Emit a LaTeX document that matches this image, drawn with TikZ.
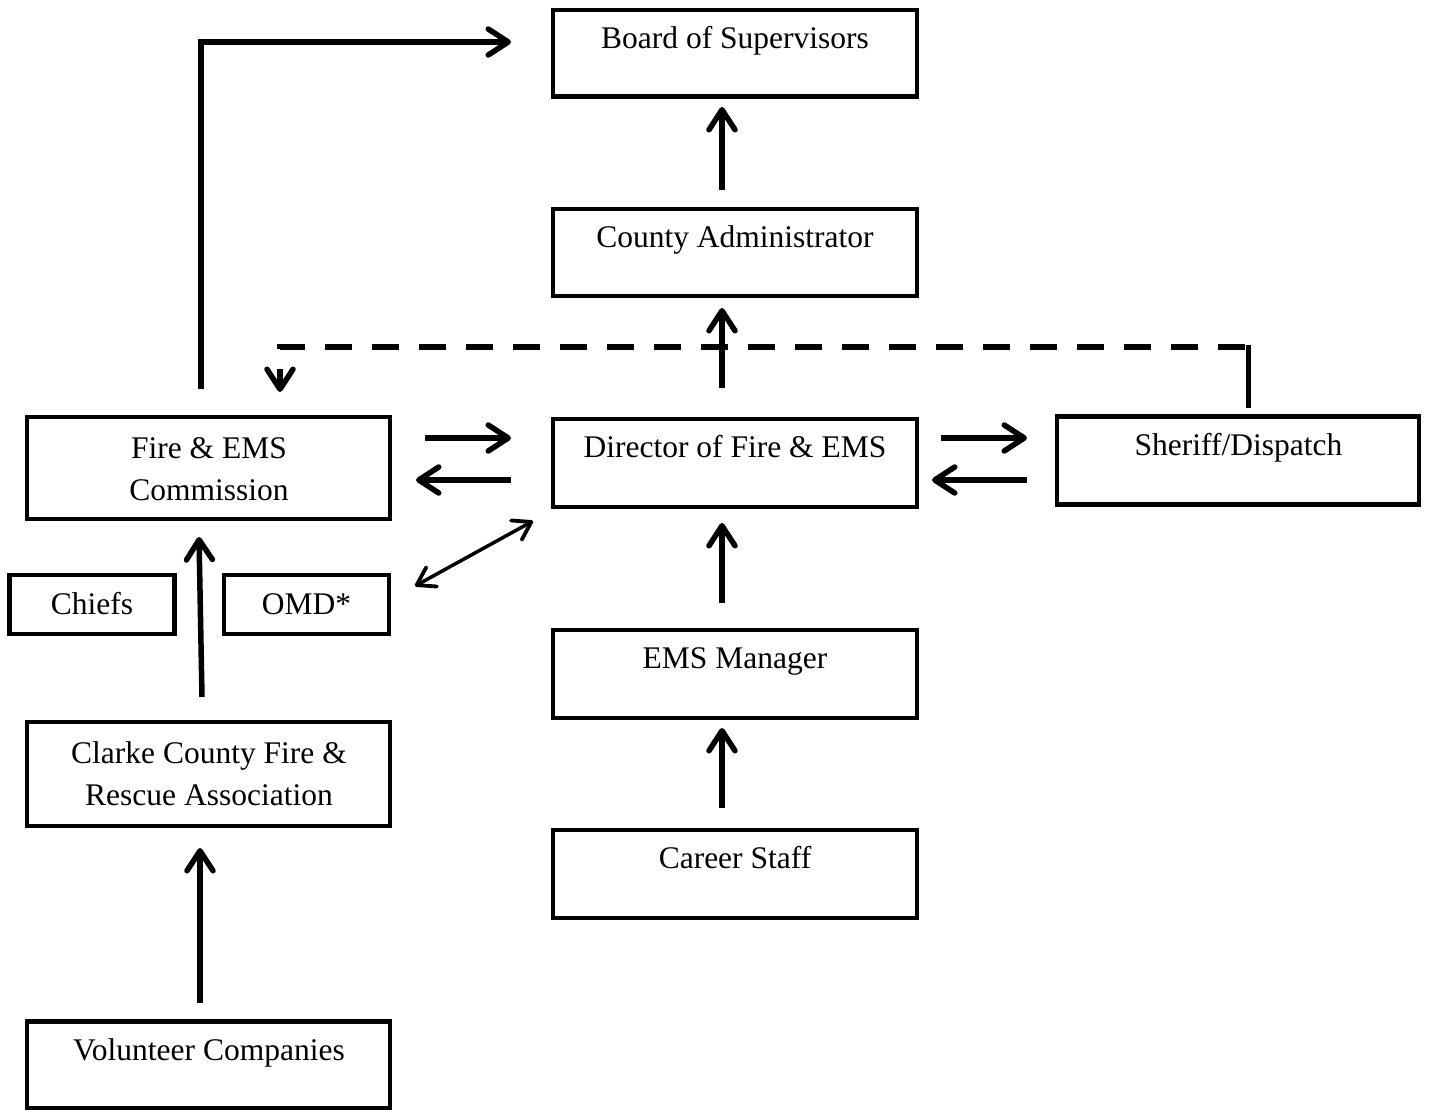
\documentclass[tikz,border=0pt]{standalone}
\usepackage{fontspec}
\setmainfont{Liberation Serif}
\usetikzlibrary{arrows.meta}
\begin{document}
\begin{tikzpicture}[x=1pt,y=-1pt,
  box/.style={draw, line width=4.5pt, inner sep=0pt},
  txt/.style={inner sep=0pt, anchor=base, font=\fontsize{31.5}{40}\selectfont},
  arr/.style={line width=5.5pt, -{Straight Barb[length=20pt,width=26pt,round,line width=5.5pt 0]}},
  dblarr/.style={line width=3.5pt, {Straight Barb[length=17pt,width=22pt,round,line width=3.8pt 0]}-{Straight Barb[length=17pt,width=22pt,round,line width=3.8pt 0]}},
  dasharr/.style={line width=5.5pt, dash pattern=on 27pt off 20pt, dash phase=43.5pt, -{Straight Barb[length=20pt,width=26pt,round,line width=5.5pt 0]}},
]
\useasboundingbox (0,0) rectangle (1430,1112);

% boxes
\node[box, minimum width=364pt, minimum height=86.5pt] (board) at (735,53.25) {};
\node[box, minimum width=364pt, minimum height=87pt] (county) at (735,252.5) {};
\node[box, minimum width=364pt, minimum height=88pt] (director) at (735,463) {};
\node[box, minimum width=362pt, minimum height=88pt] (sheriff) at (1238,460.5) {};
\node[box, minimum width=363pt, minimum height=102pt] (fire) at (208.5,468) {};
\node[box, minimum width=165pt, minimum height=59pt] (chiefs) at (92,604.5) {};
\node[box, minimum width=165pt, minimum height=59pt] (omd) at (306.5,604.5) {};
\node[box, minimum width=364pt, minimum height=88pt] (ems) at (735,674) {};
\node[box, minimum width=363pt, minimum height=104pt] (clarke) at (208.5,774) {};
\node[box, minimum width=364pt, minimum height=88pt] (career) at (735,874) {};
\node[box, minimum width=363pt, minimum height=86.5pt] (volunteer) at (208.5,1064.75) {};

% texts
\node[txt] (boardT) at (735,48) {Board of Supervisors};
\node[txt] (countyT) at (735,247.5) {County Administrator};
\node[txt] (directorT) at (735,457.5) {Director of Fire \& EMS};
\node[txt] (sheriffT) at (1238.5,455) {Sheriff/Dispatch};
\node[txt] (fireT1) at (209,458) {Fire \& EMS};
\node[txt] (fireT2) at (209,500) {Commission};
\node[txt] (chiefsT) at (92,614) {Chiefs};
\node[txt] (omdT) at (306.5,614) {OMD*};
\node[txt] (emsT) at (735,668.5) {EMS Manager};
\node[txt] (clarkeT1) at (209,763) {Clarke County Fire \&};
\node[txt] (clarkeT2) at (209,805) {Rescue Association};
\node[txt] (careerT) at (735,868.5) {Career Staff};
\node[txt] (volunteerT) at (209,1060) {Volunteer Companies};

% connector end points
\coordinate (fbS) at (201,389);
\coordinate (fbE) at (511,42);
\coordinate (cbS) at (722,190);
\coordinate (cbE) at (722,107);
\coordinate (dcS) at (722,388);
\coordinate (dcE) at (722,308);
\coordinate (edS) at (722,603);
\coordinate (edE) at (722,523);
\coordinate (ceS) at (722,808);
\coordinate (ceE) at (722,728);
\coordinate (fdS) at (425,438);
\coordinate (fdE) at (511,438);
\coordinate (dfS) at (511,480);
\coordinate (dfE) at (416,480);
\coordinate (dsS) at (941,438);
\coordinate (dsE) at (1027,438);
\coordinate (sdS) at (1027,480);
\coordinate (sdE) at (932,480);
\coordinate (omA) at (415,586);
\coordinate (omB) at (533,521);
\coordinate (cfS) at (202,697);
\coordinate (cfE) at (199,537);
\coordinate (vcS) at (200,1003);
\coordinate (vcE) at (200,848);
\coordinate (shS) at (1248.5,408);
\coordinate (shT) at (1248.5,344.5);
\coordinate (shC) at (1248.5,347);
\coordinate (frE) at (280,392);

% connectors
\draw[arr] (fbS) |- (fbE);
\draw[arr] (cbS) -- (cbE);
\draw[arr] (dcS) -- (dcE);
\draw[arr] (edS) -- (edE);
\draw[arr] (ceS) -- (ceE);
\draw[arr] (fdS) -- (fdE);
\draw[arr] (dfS) -- (dfE);
\draw[arr] (dsS) -- (dsE);
\draw[arr] (sdS) -- (sdE);
\draw[dblarr] (omA) -- (omB);
\draw[arr] (cfS) -- (cfE);
\draw[arr] (vcS) -- (vcE);
\draw[line width=5.5pt] (shS) -- (shT);
\draw[dasharr] (shC) -| (frE);
\end{tikzpicture}
\end{document}
